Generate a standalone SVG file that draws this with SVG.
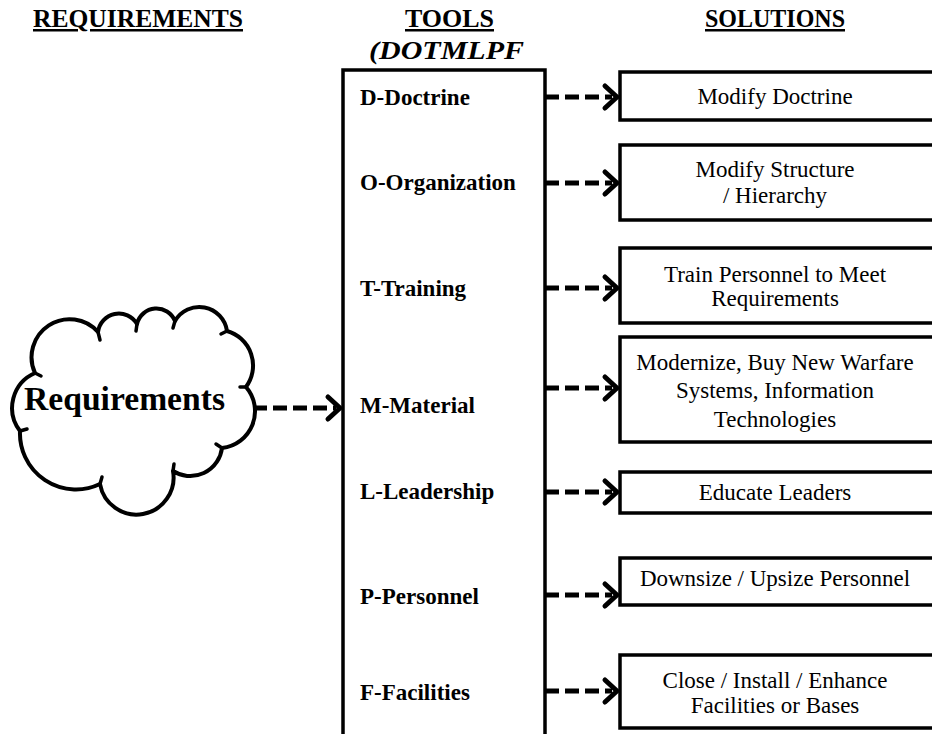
<svg xmlns="http://www.w3.org/2000/svg" width="932" height="734" viewBox="0 0 932 734">
<style>
.hdr{font-family:"Liberation Serif","Times New Roman",serif;font-weight:bold;font-size:25px;text-decoration:underline;fill:#000}
.ital{font-family:"Liberation Serif","Times New Roman",serif;font-weight:bold;font-style:italic;font-size:25px;fill:#000}
.tool{font-family:"Liberation Serif","Times New Roman",serif;font-weight:bold;font-size:23px;fill:#000}
.sol{font-family:"Liberation Serif","Times New Roman",serif;font-size:23px;fill:#000;text-anchor:middle}
.box{fill:#fff;stroke:#000;stroke-width:3.5}
.dash{stroke:#000;stroke-width:5;stroke-dasharray:14 6;fill:none}
.head{stroke:#000;stroke-width:5;fill:none;stroke-linecap:round;stroke-linejoin:round}
.cloud{fill:#fff;stroke:#000;stroke-width:4;stroke-linejoin:round}
.tick{stroke:#000;stroke-width:3.5;stroke-linecap:round;fill:none}
</style>

<g id="headers">
<text class="hdr" x="33" y="27" textLength="210" lengthAdjust="spacingAndGlyphs">REQUIREMENTS</text>
<text class="hdr" x="405" y="27" textLength="89" lengthAdjust="spacingAndGlyphs">TOOLS</text>
<text class="ital" x="369" y="59" textLength="155" lengthAdjust="spacingAndGlyphs">(DOTMLPF</text>
<text class="hdr" x="705" y="27" textLength="140" lengthAdjust="spacingAndGlyphs">SOLUTIONS</text>
</g>

<g id="requirements-cloud">
<path class="cloud" d="M35,373 A38,38 0 0 1 98,332 A21,21 0 0 1 137,324 A20,20 0 0 1 175,321 A28,28 0 0 1 227,331 A36,36 0 0 1 246,387 A37,37 0 0 1 222,448 A32,32 0 0 1 173,471 A37,37 0 0 1 100,484 A56,56 0 0 1 20,431 A38,38 0 0 1 35,373 Z"/>
<path class="tick" d="M98,332 l2,8 M137,324 l-1,7 M175,321 l-2,7 M227,331 l-6,3 M246,387 l-6,0 M222,448 l-6,-4 M173,471 l1,-7 M100,484 l2,-7 M20,431 l7,-2 M35,373 l6,3"/>
<text x="24" y="410" font-family="'Liberation Serif','Times New Roman',serif" font-weight="bold" font-size="33" textLength="201" lengthAdjust="spacingAndGlyphs">Requirements</text>
</g>

<g id="tools-box">
<path d="M343,740 V70 H545 V740" fill="none" stroke="#000" stroke-width="3.5"/>
<text class="tool" x="360" y="105">D-Doctrine</text>
<text class="tool" x="360" y="190">O-Organization</text>
<text class="tool" x="360" y="296">T-Training</text>
<text class="tool" x="360" y="413">M-Material</text>
<text class="tool" x="360" y="499">L-Leadership</text>
<text class="tool" x="360" y="604">P-Personnel</text>
<text class="tool" x="360" y="700">F-Facilities</text>
</g>

<g id="sol-doctrine">
<rect class="box" x="620" y="72" width="330" height="48"/>
<text class="sol" x="775" y="104">Modify Doctrine</text>
</g>
<g id="sol-organization">
<rect class="box" x="620" y="145" width="330" height="75"/>
<text class="sol" x="775" y="177">Modify Structure</text>
<text class="sol" x="775" y="203">/ Hierarchy</text>
</g>
<g id="sol-training">
<rect class="box" x="620" y="248" width="330" height="75"/>
<text class="sol" x="775" y="282">Train Personnel to Meet</text>
<text class="sol" x="775" y="306">Requirements</text>
</g>
<g id="sol-material">
<rect class="box" x="620" y="337" width="330" height="105"/>
<text class="sol" x="775" y="370">Modernize, Buy New Warfare</text>
<text class="sol" x="775" y="398">Systems, Information</text>
<text class="sol" x="775" y="427">Technologies</text>
</g>
<g id="sol-leadership">
<rect class="box" x="620" y="472" width="330" height="41"/>
<text class="sol" x="775" y="500">Educate Leaders</text>
</g>
<g id="sol-personnel">
<rect class="box" x="620" y="558" width="330" height="47"/>
<text class="sol" x="775" y="586">Downsize / Upsize Personnel</text>
</g>
<g id="sol-facilities">
<rect class="box" x="620" y="655" width="330" height="73"/>
<text class="sol" x="775" y="688">Close / Install / Enhance</text>
<text class="sol" x="775" y="713">Facilities or Bases</text>
</g>

<g id="connectors">
<line class="dash" x1="253" y1="408" x2="336" y2="408"/>
<polyline class="head" points="328,397 340,408 328,419"/>
<line class="dash" x1="545" y1="97" x2="612" y2="97"/>
<polyline class="head" points="605,86 617,97 605,108"/>
<line class="dash" x1="545" y1="183" x2="612" y2="183"/>
<polyline class="head" points="605,172 617,183 605,194"/>
<line class="dash" x1="545" y1="288" x2="612" y2="288"/>
<polyline class="head" points="605,277 617,288 605,299"/>
<line class="dash" x1="545" y1="388" x2="612" y2="388"/>
<polyline class="head" points="605,377 617,388 605,399"/>
<line class="dash" x1="545" y1="492" x2="612" y2="492"/>
<polyline class="head" points="605,481 617,492 605,503"/>
<line class="dash" x1="545" y1="595" x2="612" y2="595"/>
<polyline class="head" points="605,584 617,595 605,606"/>
<line class="dash" x1="545" y1="691" x2="612" y2="691"/>
<polyline class="head" points="605,680 617,691 605,702"/>
</g>
</svg>
